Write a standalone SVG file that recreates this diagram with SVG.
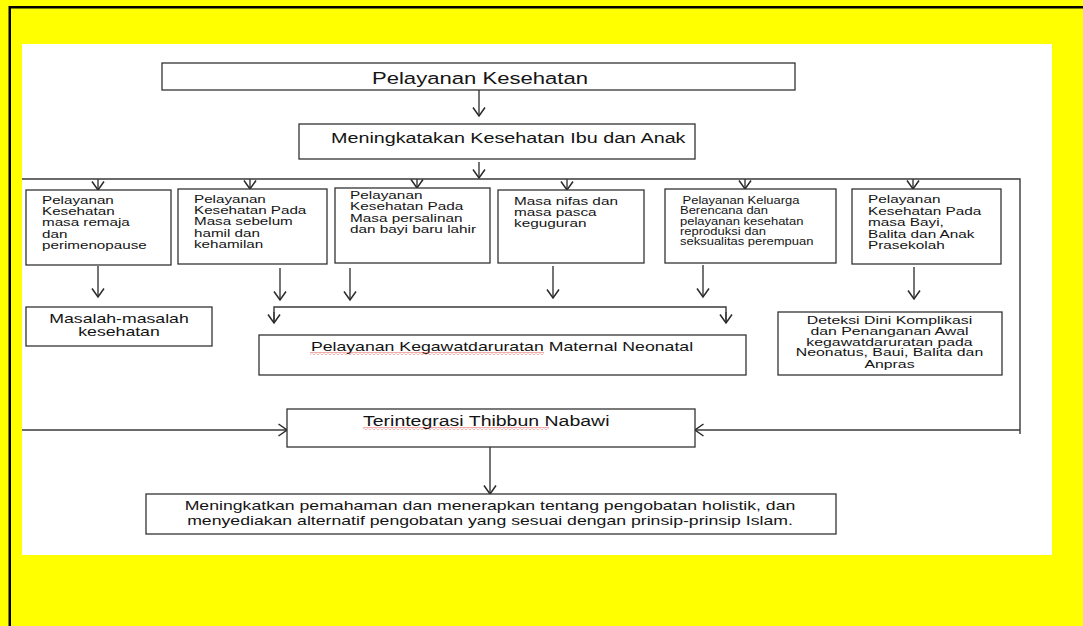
<svg xmlns="http://www.w3.org/2000/svg" width="1083" height="626" viewBox="0 0 1083 626">
<style>
.t{font-family:"Liberation Sans",Arial,sans-serif;fill:#141414}
.box{fill:#fff;stroke:#333;stroke-width:1.3}
.ln{fill:none;stroke:#3a3a3a;stroke-width:1.4}
.ar{fill:none;stroke:#3a3a3a;stroke-width:1.4;marker-end:url(#ah)}
</style>
<defs>
<marker id="ah" markerUnits="userSpaceOnUse" markerWidth="11" markerHeight="14" viewBox="0 0 11 14" refX="9.5" refY="7" orient="auto">
<path d="M1,1 L9.5,7 L1,13" fill="none" stroke="#2a2a2a" stroke-width="1.5"/>
</marker>
<pattern id="squig" width="4" height="3" patternUnits="userSpaceOnUse">
<path d="M0,2.5 L2,0.5 L4,2.5" fill="none" stroke="#e0302a" stroke-width="0.8"/>
</pattern>
</defs>
<rect x="0" y="0" width="1083" height="626" fill="#ffff00"/>
<rect x="9.75" y="7.25" width="1100" height="700" fill="none" stroke="#000" stroke-width="2.5"/>
<rect x="22" y="44" width="1030" height="511" fill="#fff"/>

<g id="connectors">
<line class="ar" x1="479" y1="90" x2="479" y2="116"/>
<line class="ar" x1="479" y1="162" x2="479" y2="178"/>
<polyline class="ln" points="22,179 1020,179 1020,434"/>
<line class="ar" x1="98" y1="179" x2="98" y2="190"/>
<line class="ar" x1="250" y1="179" x2="250" y2="189"/>
<line class="ar" x1="417" y1="179" x2="417" y2="188"/>
<line class="ar" x1="567" y1="179" x2="567" y2="190"/>
<line class="ar" x1="745" y1="179" x2="745" y2="189"/>
<line class="ar" x1="913" y1="179" x2="913" y2="189"/>
<line class="ar" x1="98" y1="266" x2="98" y2="297"/>
<line class="ar" x1="280" y1="268" x2="280" y2="300"/>
<line class="ar" x1="350" y1="268" x2="350" y2="300"/>
<line class="ar" x1="553" y1="266" x2="553" y2="298"/>
<line class="ar" x1="703" y1="265" x2="703" y2="297"/>
<line class="ar" x1="914" y1="267" x2="914" y2="299"/>
<polyline class="ln" points="274,322 274,307 726,307 726,322"/>
<line class="ar" x1="274" y1="312" x2="274" y2="323"/>
<line class="ar" x1="726" y1="312" x2="726" y2="323"/>
<line class="ar" x1="22" y1="430" x2="287" y2="430"/>
<line class="ar" x1="1020" y1="430" x2="695" y2="430"/>
<line class="ar" x1="490" y1="447" x2="490" y2="494"/>
</g>

<g id="n-pelayanan-kesehatan">
<rect class="box" x="162" y="63" width="633" height="27"/>
<text class="t" font-size="17" text-anchor="middle" transform="translate(480,83.5) scale(1.3,1)">Pelayanan Kesehatan</text>
</g>
<g id="n-meningkatakan">
<rect class="box" x="299" y="124" width="396" height="35"/>
<text class="t" font-size="15.2" transform="translate(331,142.5) scale(1.3,1)">Meningkatakan Kesehatan Ibu dan Anak</text>
</g>

<g id="n-remaja">
<rect class="box" x="26" y="190" width="145" height="75"/>
<text class="t" font-size="11.7" transform="translate(42,204) scale(1.3,1)"><tspan x="0" y="0">Pelayanan</tspan><tspan x="0" y="11.2">Kesehatan</tspan><tspan x="0" y="22.4">masa remaja</tspan><tspan x="0" y="33.6">dan</tspan><tspan x="0" y="44.8">perimenopause</tspan></text>
</g>
<g id="n-sebelum-hamil">
<rect class="box" x="178" y="189" width="149" height="75"/>
<text class="t" font-size="11.7" transform="translate(194,203) scale(1.3,1)"><tspan x="0" y="0">Pelayanan</tspan><tspan x="0" y="11.2">Kesehatan Pada</tspan><tspan x="0" y="22.4">Masa sebelum</tspan><tspan x="0" y="33.6">hamil dan</tspan><tspan x="0" y="44.8">kehamilan</tspan></text>
</g>
<g id="n-persalinan">
<rect class="box" x="335" y="188" width="155" height="75"/>
<text class="t" font-size="11.8" transform="translate(350,199) scale(1.3,1)"><tspan x="0" y="0">Pelayanan</tspan><tspan x="0" y="11.5">Kesehatan Pada</tspan><tspan x="0" y="23">Masa persalinan</tspan><tspan x="0" y="34.5">dan bayi baru lahir</tspan></text>
</g>
<g id="n-nifas">
<rect class="box" x="498" y="190" width="146" height="73"/>
<text class="t" font-size="11.8" transform="translate(514,204.7) scale(1.3,1)"><tspan x="0" y="0">Masa nifas dan</tspan><tspan x="0" y="11.2">masa pasca</tspan><tspan x="0" y="22.4">keguguran</tspan></text>
</g>
<g id="n-kb">
<rect class="box" x="665" y="189" width="171" height="74"/>
<text class="t" font-size="10" transform="translate(680,204) scale(1.3,1)"><tspan x="2" y="0">Pelayanan Keluarga</tspan><tspan x="0" y="10.3">Berencana dan</tspan><tspan x="0" y="20.6">pelayanan kesehatan</tspan><tspan x="0" y="30.9">reproduksi dan</tspan><tspan x="0" y="41.2">seksualitas perempuan</tspan></text>
</g>
<g id="n-bayi">
<rect class="box" x="852" y="189" width="149" height="75"/>
<text class="t" font-size="11.8" transform="translate(868,203.3) scale(1.3,1)"><tspan x="0" y="0">Pelayanan</tspan><tspan x="0" y="11.5">Kesehatan Pada</tspan><tspan x="0" y="23">masa Bayi,</tspan><tspan x="0" y="34.5">Balita dan Anak</tspan><tspan x="0" y="46">Prasekolah</tspan></text>
</g>

<g id="n-masalah">
<rect class="box" x="26" y="307" width="186" height="39"/>
<text class="t" font-size="13.6" text-anchor="middle" transform="translate(119,323) scale(1.3,1)"><tspan x="0" y="0">Masalah-masalah</tspan><tspan x="0" y="13.5">kesehatan</tspan></text>
</g>
<g id="n-kegawatdaruratan">
<rect class="box" x="259" y="335" width="487" height="40"/>
<text class="t" font-size="13.6" text-anchor="middle" transform="translate(502,351) scale(1.3,1)">Pelayanan Kegawatdaruratan Maternal Neonatal</text>
<rect x="310" y="352" width="234" height="3" fill="url(#squig)"/>
</g>
<g id="n-deteksi">
<rect class="box" x="778" y="312" width="224" height="63"/>
<text class="t" font-size="11" text-anchor="middle" transform="translate(889.5,324) scale(1.44,1)"><tspan x="0" y="0">Deteksi Dini Komplikasi</tspan><tspan x="0" y="11">dan Penanganan Awal</tspan><tspan x="0" y="22">kegawatdaruratan pada</tspan><tspan x="0" y="32.5">Neonatus, Baui, Balita dan</tspan><tspan x="0" y="44.5">Anpras</tspan></text>
</g>

<g id="n-thibbun">
<rect class="box" x="287" y="409" width="408" height="38"/>
<text class="t" font-size="15" transform="translate(363,425.5) scale(1.3,1)">Terintegrasi Thibbun Nabawi</text>
<rect x="363" y="427" width="186" height="3" fill="url(#squig)"/>
</g>

<g id="n-hasil">
<rect class="box" x="146" y="494" width="690" height="40"/>
<text class="t" font-size="13" text-anchor="middle" transform="translate(490,510) scale(1.36,1)"><tspan x="0" y="0">Meningkatkan pemahaman dan menerapkan tentang pengobatan holistik, dan</tspan><tspan x="0" y="15.5">menyediakan alternatif pengobatan yang sesuai dengan prinsip-prinsip Islam.</tspan></text>
</g>
</svg>
